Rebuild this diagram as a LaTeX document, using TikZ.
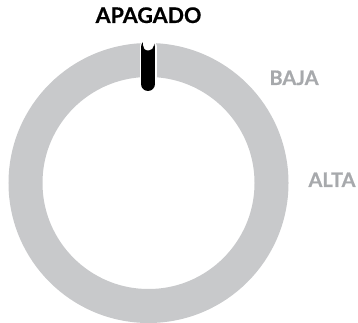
\documentclass[tikz,border=0pt]{standalone}
\usepackage{fontspec}
\setmainfont{Lato}[BoldFeatures={FakeBold=0.6}]
\definecolor{ringgray}{HTML}{C8C9CB}
\definecolor{labelgray}{HTML}{A7A9AC}
\begin{document}
\begin{tikzpicture}[x=1pt,y=1pt,
  lbl/.style={inner sep=0pt, anchor=base, font=\bfseries\fontsize{21.5}{21.5}\selectfont},
  sidelbl/.style={lbl, text=labelgray, font=\bfseries\fontsize{20}{20}\selectfont}]
\useasboundingbox (0,0) rectangle (358,323);
\coordinate (c) at (148.5,140);
\draw[ringgray, line width=34pt] (c) circle (123);
% indicator
\coordinate (itop) at (148,276);
\coordinate (ibot) at (148,239);
\draw[white, line width=17pt, line cap=round] (itop) -- (ibot);
\draw[black, line width=14pt, line cap=round] (itop) -- (ibot);
\coordinate (dtop) at (148,290);
\coordinate (dbot) at (148,278);
\draw[white, line width=11pt, line cap=round] (dtop) -- (dbot);
\node[lbl, text=black] (apagado) at (148.5,300) {APAGADO};
\node[sidelbl] (baja) at (294,238) {BAJA};
\node[sidelbl] (alta) at (332,136) {ALTA};
\end{tikzpicture}
\end{document}
